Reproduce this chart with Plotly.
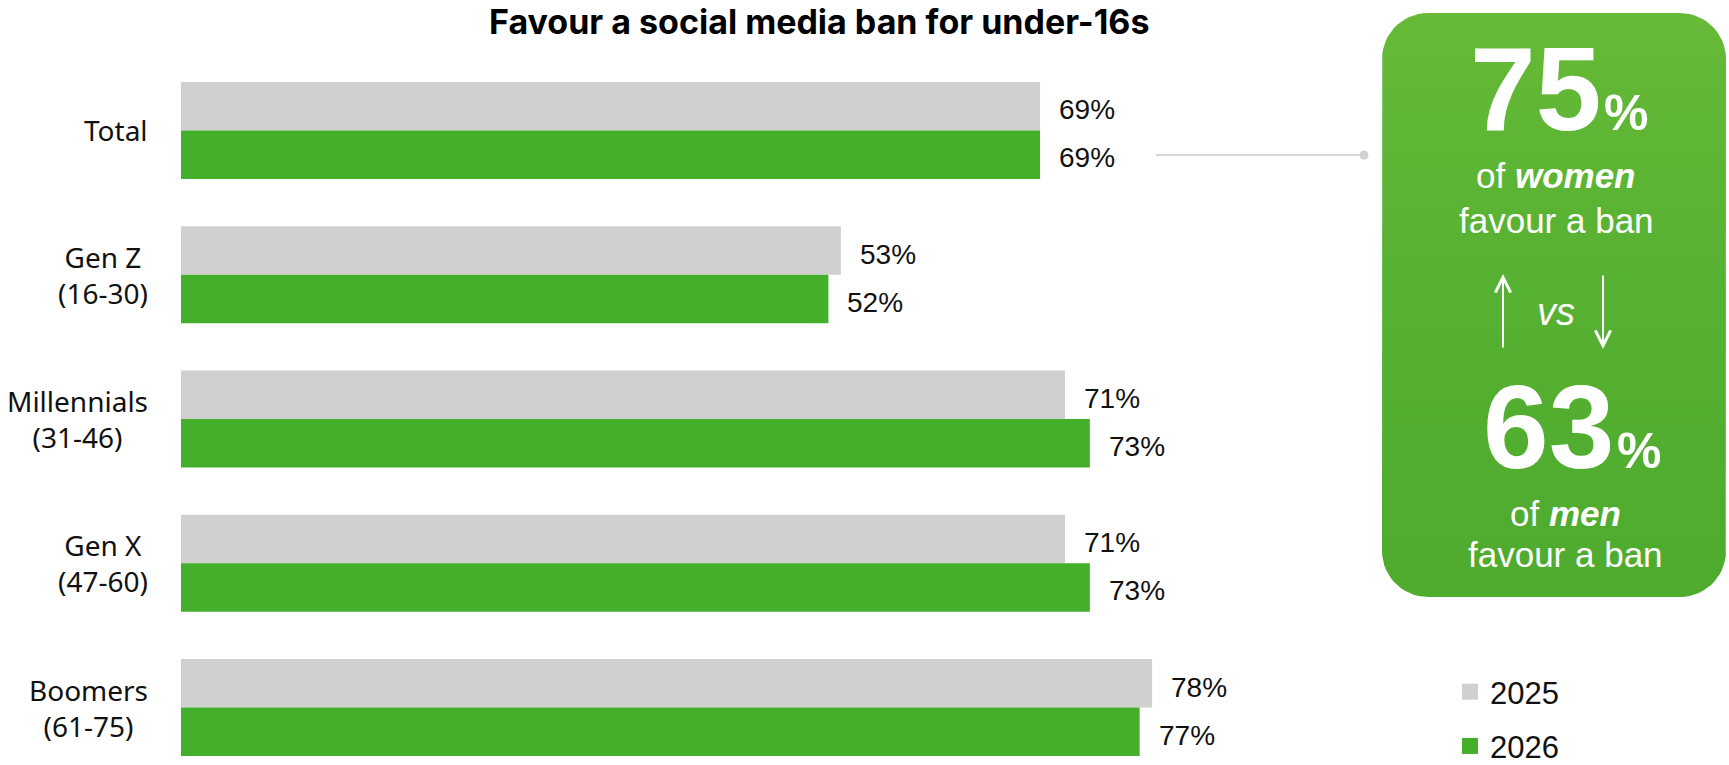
import numpy as np
import plotly.graph_objects as go

# Survey results: share favouring a social media ban for under-16s
groups = ["Total", "Gen Z", "Millennials", "Gen X", "Boomers"]
age_ranges = ["", "(16-30)", "(31-46)", "(47-60)", "(61-75)"]
values_2025 = [69, 53, 71, 71, 78]
values_2026 = [69, 52, 73, 73, 77]
series_names = ["2025", "2026"]
series_colors = ["#D0D0CE", "#43AF2A"]

women_share = 75
men_share = 63
chart_title = "Favour a social media ban for under-16s"

# Canvas geometry (pixels); paper spans the whole canvas
W, H = 1729, 765
BAR_LEFT, BAR_RIGHT, BAR_TOP, BAR_BOTTOM = 181, 1426, 58, 765


def xp(px):
    return px / W


def yp(py):
    return 1 - py / H


def mid(baseline, size, asc=0.905, desc=0.212):
    # vertical centre of a text box whose baseline sits at `baseline`
    return baseline - (asc - desc) / 2 * size


fig = go.Figure()

# Call-out panel background: rounded rectangle with a soft vertical gradient
px0, px1, py0, py1, r = 1382, 1726, 13, 597, 46
t = np.linspace(0, np.pi / 2, 16)
corners = [
    (px1 - r, py0 + r, -np.pi / 2),  # top-right
    (px1 - r, py1 - r, 0.0),         # bottom-right
    (px0 + r, py1 - r, np.pi / 2),   # bottom-left
    (px0 + r, py0 + r, np.pi),       # top-left
]
ox, oy = [], []
for cxr, cyr, a0 in corners:
    ox += list(cxr + r * np.cos(a0 + t))
    oy += list(cyr + r * np.sin(a0 + t))
ox.append(ox[0])
oy.append(oy[0])
fig.add_trace(go.Scatter(
    x=ox, y=oy, xaxis="x2", yaxis="y2", mode="lines", fill="toself",
    line=dict(width=0, color="rgba(0,0,0,0)"),
    fillgradient=dict(type="vertical",
                      colorscale=[[0, "#4EAB2E"], [0.55, "#57B132"], [1, "#66BA37"]]),
    hoverinfo="skip", showlegend=False,
))

for name, vals, col in zip(series_names, [values_2025, values_2026], series_colors):
    fig.add_trace(go.Bar(
        name=name, y=groups, x=vals, orientation="h",
        marker=dict(color=col, line=dict(width=0)),
        legendgroup=name, showlegend=False, hoverinfo="skip",
    ))
    # legend entry with a larger square swatch
    fig.add_trace(go.Scatter(
        name=name, x=[None], y=[None], mode="markers",
        marker=dict(symbol="square", size=20, color=col),
        legendgroup=name, showlegend=True, hoverinfo="skip",
    ))

annotations = []
LABEL_FONT = dict(family="Liberation Sans, Arial, sans-serif", size=28, color="#111111")
for g, v25, v26 in zip(groups, values_2025, values_2026):
    for v, shift in ((v25, 20.5), (v26, -27.5)):
        annotations.append(dict(
            x=v, y=g, xref="x", yref="y", text=f"{v}%", showarrow=False,
            xanchor="left", yanchor="middle", xshift=17, yshift=shift,
            font=LABEL_FONT,
        ))

# Category labels: centred lines, right edge next to the bars
for g, rng in zip(groups, age_ranges):
    text = g if not rng else f"{g}<br>{rng}"
    annotations.append(dict(
        x=0, y=g, xref="x", yref="y", text=text, showarrow=False,
        xanchor="right", yanchor="middle", xshift=-31, align="center",
        font=dict(family="Noto Sans, sans-serif", size=28, color="#111111"),
    ))

# Title
annotations.append(dict(
    x=xp(819), y=yp(mid(33.5, 34, 0.969, 0.242)), xref="paper", yref="paper",
    text=f"<b>{chart_title}</b>", showarrow=False, borderpad=0,
    xanchor="center", yanchor="middle",
    font=dict(family="Inter, sans-serif", size=34, color="#000000"),
))

shapes = [
    # connector from the Total row to the panel
    dict(type="line", xref="paper", yref="paper",
         x0=xp(1156), x1=xp(1364), y0=yp(155), y1=yp(155),
         line=dict(color="#D6D6D6", width=2)),
    dict(type="circle", xref="paper", yref="paper",
         x0=xp(1359.5), x1=xp(1368.5), y0=yp(150.5), y1=yp(159.5),
         fillcolor="#D0D0D0", line=dict(width=0)),
]

PANEL_FONT = "Liberation Sans, Arial, sans-serif"
WHITE = "#FFFFFF"
BIG, PCT = 118, 50


def big_pct(val, baseline, x_split):
    return [
        dict(x=xp(x_split), y=yp(mid(baseline, BIG)), xref="paper", yref="paper",
             text=f"<b>{val}</b>", showarrow=False, xanchor="right", yanchor="middle",
             borderpad=0, font=dict(family=PANEL_FONT, size=BIG, color=WHITE)),
        dict(x=xp(x_split + 1), y=yp(mid(baseline, PCT)), xref="paper", yref="paper",
             text="<b>%</b>", showarrow=False, xanchor="left", yanchor="middle",
             borderpad=0, font=dict(family=PANEL_FONT, size=PCT, color=WHITE)),
    ]


def small_line(text, baseline, xc):
    return dict(
        x=xp(xc), y=yp(mid(baseline, 35)), xref="paper", yref="paper",
        text=text, showarrow=False, xanchor="center", yanchor="middle",
        borderpad=0, font=dict(family=PANEL_FONT, size=35, color=WHITE),
    )


annotations += big_pct(women_share, 130, 1602)
annotations += [
    small_line("of <b><i>women</i></b>", 188, 1556),
    small_line("favour a ban", 233, 1556),
    dict(x=xp(1556), y=yp(mid(325, 38)), xref="paper", yref="paper",
         text="<i>vs</i>", showarrow=False, xanchor="center", yanchor="middle",
         borderpad=0, font=dict(family=PANEL_FONT, size=38, color=WHITE)),
]
annotations += big_pct(men_share, 468, 1615)
annotations += [
    small_line("of <b><i>men</i></b>", 526, 1565),
    small_line("favour a ban", 567, 1565),
    # up / down arrows
    dict(x=xp(1503), y=yp(274), xref="paper", yref="paper", text="",
         showarrow=True, ax=0, ay=75, arrowhead=5, arrowsize=1.5,
         arrowwidth=2, arrowcolor=WHITE, standoff=0),
    dict(x=xp(1603), y=yp(349), xref="paper", yref="paper", text="",
         showarrow=True, ax=0, ay=-75, arrowhead=5, arrowsize=1.5,
         arrowwidth=2, arrowcolor=WHITE, standoff=0),
]

# Category axis: pitch of 144.25 px per group, first group centred at y=130.5
pitch = 144.25
cat_top = -(130.5 - BAR_TOP) / pitch
cat_bottom = cat_top + (BAR_BOTTOM - BAR_TOP) / pitch

fig.update_layout(
    width=W, height=H,
    margin=dict(l=0, r=0, t=0, b=0, pad=0, autoexpand=False),
    paper_bgcolor="#FFFFFF", plot_bgcolor="rgba(0,0,0,0)",
    barmode="group", bargap=0.3276, bargroupgap=0,
    xaxis=dict(domain=[xp(BAR_LEFT), xp(BAR_RIGHT)], range=[0, 100],
               visible=False, fixedrange=True),
    yaxis=dict(domain=[yp(BAR_BOTTOM), yp(BAR_TOP)], range=[cat_bottom, cat_top],
               visible=False, fixedrange=True,
               categoryorder="array", categoryarray=groups),
    xaxis2=dict(domain=[xp(px0), xp(px1)], range=[px0, px1], anchor="y2",
                visible=False, fixedrange=True),
    yaxis2=dict(domain=[yp(py1), yp(py0)], range=[py1, py0], anchor="x2",
                visible=False, fixedrange=True),
    showlegend=True,
    legend=dict(
        x=xp(1450), y=yp(665), xanchor="left", yanchor="top",
        orientation="v", traceorder="grouped", tracegroupgap=11,
        font=dict(family=PANEL_FONT, size=31, color="#111111"),
        bgcolor="rgba(0,0,0,0)", borderwidth=0,
    ),
    shapes=shapes,
    annotations=annotations,
)

fig.write_html("out.html", config={"displayModeBar": False})
